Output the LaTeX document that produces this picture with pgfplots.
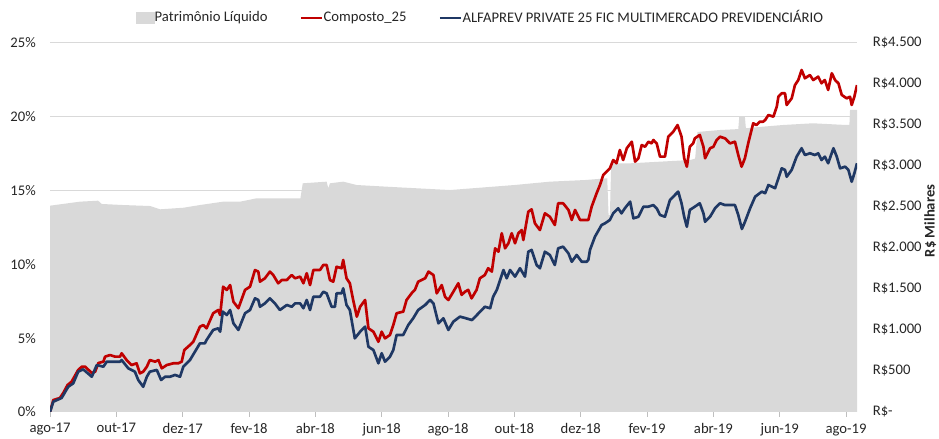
\documentclass[border=0pt]{standalone}
\usepackage{fontspec}
\setmainfont{Carlito}
\usepackage{pgfplots}
\pgfplotsset{compat=1.18}
\definecolor{plgray}{HTML}{D9D9D9}
\definecolor{cred}{HTML}{C00000}
\definecolor{cnavy}{HTML}{1F3864}
\definecolor{axgray}{HTML}{BFBFBF}
\definecolor{txt}{HTML}{262626}
\begin{document}
\fontsize{11}{13}\selectfont
\begin{tikzpicture}
\pgfplotsset{
  common/.style={
    scale only axis, width=605.25pt, height=276.75pt,
    xmin=0, xmax=24.33, at={(0,0)}, anchor=south west,
    /pgf/number format/assume math mode=true,
    tick label style={font=\fontsize{11}{13}\selectfont, text=txt},
  }
}
% base axis: grid, x axis, left ticks
\begin{axis}[common,
  ymin=0, ymax=25,
  ytick={0,5,10,15,20,25},
  yticklabels={0\%,5\%,10\%,15\%,20\%,25\%},
  ymajorgrids, grid style={plgray, line width=0.75pt},
  axis x line*=bottom, axis y line*=left,
  y axis line style={draw=none},
  x axis line style={axgray, line width=0.75pt},
  xtick={0,2,...,24},
  xticklabels={ago-17,out-17,dez-17,fev-18,abr-18,jun-18,ago-18,out-18,dez-18,fev-19,abr-19,jun-19,ago-19},
  xtick style={axgray, line width=0.75pt},
  ytick style={draw=none},
  tick align=outside, major tick length=3.75pt,
  xticklabel style={yshift=-1pt},
  yticklabel style={xshift=-3pt},
]
\end{axis}
% right axis: Patrimonio Liquido
\begin{axis}[common,
  ymin=0, ymax=4500,
  ytick={0,500,...,4500},
  yticklabels={R\$-,R\$500,R\$1.000,R\$1.500,R\$2.000,R\$2.500,R\$3.000,R\$3.500,R\$4.000,R\$4.500},
  axis y line*=right, axis x line=none,
  y axis line style={draw=none}, ytick style={draw=none},
  yticklabel style={anchor=west, xshift=8pt},
]
\addplot[fill=plgray, draw=none] coordinates {
(0,2516) (0.9,2565) (1.45,2577) (1.56,2537) (2.2,2524) (3.02,2512) (3.32,2472)
(4.02,2491) (4.52,2524) (5.22,2565) (5.73,2565) (6.23,2606) (6.73,2606) (7.55,2606)
(7.62,2789) (8.34,2809) (8.39,2728) (8.44,2789) (8.84,2809) (9.25,2768) (10.5,2740)
(12.06,2707) (14.0,2768) (15.07,2809) (16.13,2829) (16.8,2850) (16.84,2400) (16.88,2400)
(16.92,3033) (17.5,3033) (18.4,3053) (19.3,3073) (19.45,3090) (19.52,3415) (20.2,3439)
(20.75,3450) (20.78,3598) (20.95,3598) (20.98,3460) (21.5,3480) (22.1,3500) (23.0,3521)
(24.0,3500) (24.1,3500) (24.12,3683) (24.33,3683)
} \closedcycle;
\end{axis}
% lines
\begin{axis}[common,
  ymin=0, ymax=25, hide axis,
  legend style={at={(0.534,1.068)}, anchor=center, draw=none, fill=none,
    legend columns=3, font=\fontsize{11}{13}\selectfont, text=txt,
    /tikz/every even column/.append style={column sep=22pt},
    /tikz/every odd column/.append style={column sep=-2pt}},
  legend cell align=left,
]
\coordinate (bl) at (rel axis cs:0,0);
\coordinate (tr) at (rel axis cs:1,1);
\coordinate (mr) at (rel axis cs:1,0.5);
\addlegendimage{legend image code/.code={\fill[plgray] (0pt,-4pt) rectangle (13.5pt,4pt);}}
\addlegendentry{Patrimônio Líquido}
\addplot[cred, line width=2pt, line join=round,
  legend image code/.code={\draw[cred, line width=2pt] (0pt,0pt) -- (16pt,0pt);}] coordinates {
(0,0) (0.10,0.81) (0.30,0.95) (0.40,1.29) (0.53,1.83) (0.65,2.05) (0.85,2.85) (0.96,3.07)
(1.06,3.07) (1.26,2.64) (1.36,2.73) (1.46,3.32) (1.61,3.41) (1.66,3.75) (1.81,3.86) (1.96,3.75)
(2.11,3.75) (2.16,3.98) (2.31,3.52) (2.46,3.18) (2.61,3.30) (2.71,2.62) (2.81,2.73) (2.92,3.07)
(3.01,3.52) (3.17,3.41) (3.27,3.52) (3.37,2.96) (3.52,3.18) (3.72,3.30) (3.87,3.30) (3.97,3.41)
(4.05,4.20) (4.22,4.54) (4.32,4.76) (4.52,5.78) (4.62,5.89) (4.72,5.67) (4.92,6.69) (5.07,6.91)
(5.13,6.57) (5.22,8.49) (5.33,8.27) (5.43,8.60) (5.53,7.47) (5.68,7.03) (5.88,8.27) (6.03,8.49)
(6.18,9.62) (6.28,9.51) (6.33,8.83) (6.48,9.06) (6.63,9.51) (6.73,9.28) (6.88,8.72) (6.99,8.94)
(7.14,8.94) (7.29,9.28) (7.39,9.06) (7.54,9.17) (7.64,8.72) (7.74,9.40) (7.84,8.60) (7.94,9.62)
(8.14,9.62) (8.24,9.96) (8.34,9.96) (8.44,8.94) (8.54,8.83) (8.64,9.84) (8.79,9.74) (8.84,10.30)
(8.94,9.06) (9.04,8.72) (9.14,7.59) (9.25,6.46) (9.35,7.13) (9.50,7.59) (9.60,5.67) (9.75,5.44)
(9.90,4.76) (10.00,5.44) (10.10,4.99) (10.25,5.22) (10.35,5.89) (10.45,6.69) (10.65,6.80) (10.75,7.59)
(10.90,8.04) (11.00,8.27) (11.10,8.83) (11.31,9.06) (11.41,9.51) (11.56,9.28) (11.66,8.04) (11.81,8.60)
(11.91,7.81) (12.01,7.59) (12.16,8.15) (12.31,8.72) (12.41,7.93) (12.51,8.15) (12.61,8.27) (12.71,7.70)
(12.86,8.27) (12.96,9.06) (13.11,9.28) (13.21,9.74) (13.32,9.51) (13.42,11.09) (13.52,10.86) (13.62,12.11)
(13.72,11.09) (13.82,11.43) (13.92,12.11) (14.02,11.43) (14.12,12.11) (14.22,12.33) (14.27,11.65) (14.42,13.57)
(14.52,13.73) (14.62,12.78) (14.77,12.33) (14.92,13.46) (15.07,13.23) (15.22,12.67) (15.32,14.14) (15.47,14.14)
(15.63,13.69) (15.73,13.01) (15.83,13.69) (15.98,13.01) (16.13,13.01) (16.23,13.01) (16.33,13.91) (16.48,14.82)
(16.58,15.38) (16.68,16.06) (16.78,16.28) (16.88,16.51) (16.98,17.07) (17.08,16.85) (17.18,17.75) (17.28,17.07)
(17.39,17.87) (17.54,18.31) (17.64,16.96) (17.74,17.19) (17.84,18.09) (17.94,17.97) (18.04,18.31) (18.14,18.20)
(18.19,18.43) (18.29,18.20) (18.39,17.30) (18.54,17.30) (18.64,18.65) (18.79,18.99) (18.92,19.44) (19.04,18.65)
(19.12,17.19) (19.20,16.62) (19.29,17.97) (19.39,18.20) (19.44,18.54) (19.59,18.77) (19.70,17.97) (19.75,17.19)
(19.90,17.87) (20.00,17.97) (20.10,18.43) (20.20,18.65) (20.35,18.54) (20.50,18.20) (20.65,18.31) (20.75,17.41)
(20.85,16.62) (20.95,17.19) (21.05,18.20) (21.20,19.56) (21.30,19.44) (21.40,19.67) (21.50,19.67) (21.56,19.78)
(21.66,20.12) (21.81,20.01) (21.91,20.68) (21.96,21.36) (22.06,21.59) (22.16,21.59) (22.21,20.80) (22.36,21.25)
(22.46,22.15) (22.56,22.49) (22.66,23.17) (22.76,22.61) (22.91,22.83) (23.01,22.49) (23.16,22.72) (23.26,22.27)
(23.36,22.49) (23.46,21.82) (23.57,22.95) (23.67,22.49) (23.77,22.27) (23.87,21.48) (24.02,21.25) (24.12,21.36)
(24.17,20.80) (24.25,21.36) (24.33,22.15)
};
\addlegendentry{Composto\_25}
\addplot[cnavy, line width=2pt, line join=round,
  legend image code/.code={\draw[cnavy, line width=2pt] (0pt,0pt) -- (16pt,0pt);}] coordinates {
(0,0) (0.10,0.70) (0.35,0.95) (0.55,1.71) (0.70,1.94) (0.85,2.73) (1.00,2.89) (1.26,2.39)
(1.41,3.18) (1.61,3.07) (1.71,3.41) (1.96,3.41) (2.11,3.41) (2.16,3.52) (2.36,2.96) (2.56,2.73)
(2.66,2.17) (2.81,1.71) (2.92,2.39) (3.01,2.73) (3.22,2.85) (3.35,2.17) (3.47,2.39) (3.62,2.39)
(3.77,2.51) (3.92,2.39) (4.02,3.07) (4.22,3.52) (4.52,4.65) (4.67,4.65) (4.72,4.88) (4.92,5.56)
(5.07,5.67) (5.13,5.44) (5.21,6.80) (5.33,6.57) (5.43,6.91) (5.53,6.01) (5.68,5.56) (5.88,6.69)
(6.03,6.91) (6.18,7.70) (6.28,7.59) (6.33,7.13) (6.48,7.36) (6.63,7.70) (6.78,7.36) (6.93,6.91)
(7.14,7.25) (7.29,7.13) (7.39,7.36) (7.54,7.36) (7.64,7.03) (7.74,7.59) (7.84,6.91) (7.94,7.81)
(8.14,7.81) (8.24,8.15) (8.34,8.04) (8.49,7.13) (8.59,7.13) (8.64,8.04) (8.79,8.04) (8.84,8.38)
(8.94,7.25) (9.04,6.91) (9.19,4.99) (9.35,5.44) (9.50,5.78) (9.60,4.42) (9.75,4.20) (9.90,3.30)
(10.00,3.98) (10.10,3.41) (10.25,3.75) (10.35,4.20) (10.45,5.22) (10.65,5.22) (10.80,5.89) (10.95,6.35)
(11.10,6.91) (11.31,7.25) (11.46,7.59) (11.56,7.36) (11.71,6.01) (11.86,6.35) (12.01,5.56) (12.16,6.12)
(12.36,6.46) (12.51,6.37) (12.72,6.23) (12.90,6.64) (13.11,7.13) (13.27,7.03) (13.36,7.81) (13.47,8.27)
(13.57,8.94) (13.67,9.62) (13.77,9.06) (13.87,9.62) (14.02,9.17) (14.17,9.74) (14.32,9.17) (14.42,10.86)
(14.52,10.98) (14.67,9.96) (14.77,9.74) (14.92,10.86) (15.07,10.64) (15.22,9.96) (15.32,11.09) (15.47,11.20)
(15.63,10.75) (15.73,10.18) (15.88,10.64) (16.03,10.18) (16.18,10.18) (16.23,10.30) (16.28,10.98) (16.43,11.88)
(16.63,12.67) (16.73,12.78) (16.88,13.01) (16.98,13.46) (17.13,13.80) (17.23,13.46) (17.33,13.80) (17.49,14.25)
(17.59,13.12) (17.74,13.23) (17.89,13.91) (18.04,13.91) (18.19,14.02) (18.29,13.80) (18.39,13.35) (18.54,13.23)
(18.69,14.36) (18.79,14.59) (18.94,14.93) (19.04,14.14) (19.12,13.23) (19.20,12.55) (19.29,13.69) (19.44,13.91)
(19.59,14.14) (19.70,13.46) (19.75,12.89) (19.90,13.23) (20.05,13.80) (20.20,14.14) (20.35,14.02) (20.50,14.02)
(20.65,14.02) (20.75,13.35) (20.86,12.40) (20.95,12.87) (21.11,13.82) (21.26,14.59) (21.46,14.93) (21.56,14.82)
(21.66,15.38) (21.86,15.16) (21.96,15.83) (22.06,16.51) (22.16,16.40) (22.21,15.94) (22.36,16.40) (22.51,17.30)
(22.66,17.87) (22.76,17.41) (22.91,17.53) (23.06,17.41) (23.16,17.53) (23.26,17.07) (23.36,17.30) (23.46,16.85)
(23.62,17.87) (23.72,17.30) (23.82,16.51) (23.97,16.62) (24.07,16.40) (24.17,15.60) (24.25,16.17) (24.33,16.85)
};
\addlegendentry{ALFAPREV PRIVATE 25 FIC MULTIMERCADO PREVIDENCIÁRIO}
\end{axis}
\node[rotate=90, font=\fontsize{11}{13}\selectfont\bfseries, text=txt, inner sep=0pt] at ([xshift=55pt, yshift=5pt]mr) {R\$ Milhares};
\pgfresetboundingbox
\path ([shift={(-37.5pt,-20.25pt)}]bl) rectangle ([shift={(61.5pt,32.25pt)}]tr);
\end{tikzpicture}
\end{document}
